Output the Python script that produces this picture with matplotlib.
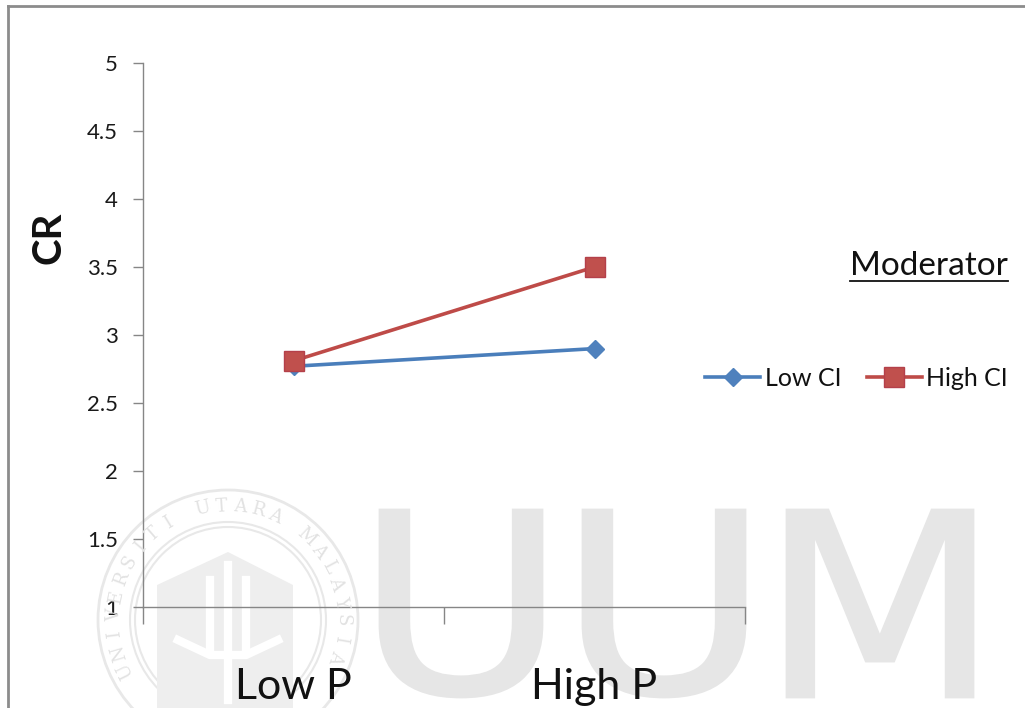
import numpy as np
import matplotlib
matplotlib.use('Agg')
import matplotlib.pyplot as plt
from matplotlib.textpath import TextPath
from matplotlib.patches import PathPatch, Circle, Polygon
from matplotlib.font_manager import FontProperties
from matplotlib.transforms import Affine2D
from matplotlib.lines import Line2D

# dados do grafico
categorias = ['Low P', 'High P']
low_ci = [2.77, 2.90]
high_ci = [2.81, 3.50]
y_ticks = [1, 1.5, 2, 2.5, 3, 3.5, 4, 4.5, 5]

W, H = 1025, 708
plt.rcParams['font.family'] = ['Lato', 'DejaVu Sans']
fig = plt.figure(figsize=(W / 100, H / 100), dpi=100)

# transformacao em pixels (origem no canto superior esquerdo)
pix = Affine2D().scale(1 / W, -1 / H).translate(0, 1) + fig.transFigure

# marca d'agua: selo e letras UUM
wm = '#e6e6e6'
cx, cy = 228, 620
fig.add_artist(Circle((cx, cy), 130, transform=pix, fill=False, ec='#e8e8e8', lw=2, zorder=0))
fig.add_artist(Circle((cx, cy), 98, transform=pix, fill=False, ec='#e8e8e8', lw=1.5, zorder=0))
fig.add_artist(Circle((cx, cy), 93, transform=pix, fill=False, ec='#e8e8e8', lw=1.5, zorder=0))
escudo = [(157, 720), (157, 585), (228, 552), (293, 585), (293, 720)]
fig.add_artist(Polygon(escudo, closed=True, transform=pix, fc='#eeeeee', ec='none', zorder=0))
for xx in (210, 246):
    fig.add_artist(Line2D([xx, xx], [580, 650], transform=pix, color='white', lw=6, zorder=0))
fig.add_artist(Line2D([228, 228], [565, 700], transform=pix, color='white', lw=6, zorder=0))
fig.add_artist(Line2D([178, 210, 246, 278], [640, 655, 655, 640], transform=pix, color='white', lw=6, zorder=0))

selo = 'UNIVERSITI UTARA MALAYSIA'
angulos = np.linspace(206, -19, len(selo))
for ch, a in zip(selo, angulos):
    r = 114
    x = cx + r * np.cos(np.radians(a))
    y = cy - r * np.sin(np.radians(a))
    fig.text(x, y, ch, transform=pix, rotation=a - 90, ha='center', va='center',
             fontsize=13, family='DejaVu Serif', color='#e2e2e2', zorder=0)

fp = FontProperties(family='DejaVu Sans')
for letra, (x0, x1) in zip('UUM', [(380, 542), (583, 745), (787, 973)]):
    tp = TextPath((0, 0), letra, size=100, prop=fp)
    ext = tp.get_extents()
    tr = (Affine2D().translate(-ext.x0, -ext.y0)
          .scale((x1 - x0) / ext.width, -(697 - 510) / ext.height)
          .translate(x0, 697))
    fig.add_artist(PathPatch(tr.transform_path(tp), transform=pix, fc=wm, ec=wm, lw=2, zorder=0))

# moldura da area do grafico
borda = '#8c8c8c'
fig.add_artist(Line2D([8, 8], [6, 708], transform=pix, color=borda, lw=2))
fig.add_artist(Line2D([8, 1025], [6, 6], transform=pix, color=borda, lw=2))

# eixos
ax = fig.add_axes([143 / W, 1 - 607 / H, (745 - 143) / W, (607 - 63) / H])
ax.patch.set_alpha(0)

x = np.arange(len(categorias)) + 0.5
l1, = ax.plot(x, low_ci, color='#4A7EBB', lw=2.6, marker='D', ms=9,
              mfc='#4F81BD', mec='#4F81BD', label='Low CI', zorder=3)
l2, = ax.plot(x, high_ci, color='#BE4B48', lw=2.6, marker='s', ms=14,
              mfc='#C0504D', mec='#B4404A', label='High CI', zorder=4)

ax.set_xlim(0, 2)
ax.set_ylim(1, 5)
ax.set_yticks(y_ticks)
ax.set_yticklabels([f'{t:g}' for t in y_ticks])
ax.set_xticks([0, 1, 2])
ax.set_xticklabels([])
ax.set_xticks(x, minor=True)
ax.set_xticklabels(categorias, minor=True)

cinza = '#868686'
ax.tick_params(axis='x', which='major', length=12, width=1, color=cinza)
ax.tick_params(axis='x', which='minor', length=0, pad=44, labelsize=31, labelcolor='#111111')
ax.tick_params(axis='y', length=7, width=1, color=cinza, labelsize=16, pad=11, labelcolor='#1a1a1a')
for s in ['top', 'right']:
    ax.spines[s].set_visible(False)
for s in ['left', 'bottom']:
    ax.spines[s].set_color(cinza)
    ax.spines[s].set_linewidth(1)

ax.set_ylabel('CR', fontsize=29, fontweight='bold', color='#111111')
ax.yaxis.set_label_coords(-0.126, 0.678)

# titulo da legenda sublinhado
t = fig.text(850 / W, 1 - 275 / H, 'Moderator', fontsize=24, ha='left', va='baseline', color='#111111')
fig.canvas.draw()
bb = t.get_window_extent()
fig.add_artist(Line2D([bb.x0 / W, bb.x1 / W], [1 - 281 / H] * 2, color='#111111', lw=1.3))

fig.legend(handles=[l1, l2], loc='center left', bbox_to_anchor=(705 / W, 1 - 378 / H),
           ncol=2, frameon=False, fontsize=18, handlelength=2.2, handletextpad=0.2,
           columnspacing=1.0, borderpad=0, borderaxespad=0, labelcolor='#111111')

fig.savefig('out.png', dpi=100)
